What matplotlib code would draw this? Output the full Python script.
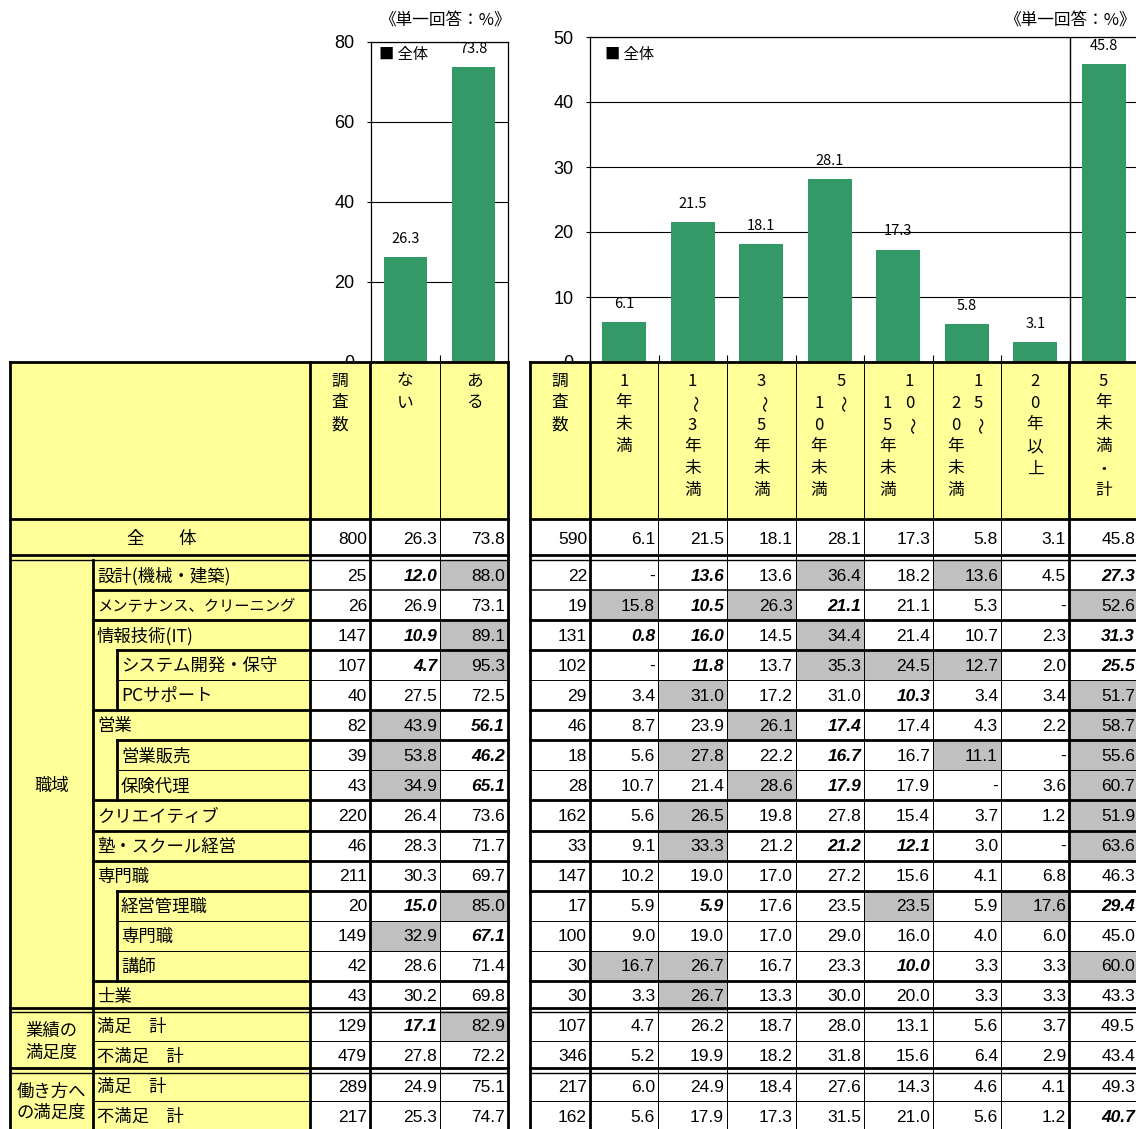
import matplotlib.pyplot as plt
from matplotlib.patches import Rectangle

W, H = 1136, 1129
JP = ['Noto Sans CJK JP', 'DejaVu Sans']
NUM = ['Liberation Sans', 'DejaVu Sans']
GREEN = '#339966'
YELLOW = '#FFFF99'
GRAY = '#C0C0C0'

# ---------------- data ----------------
left_heads = [['調査数'], ['ない'], ['ある']]
right_heads = [['調査数'], ['1年未満'], ['1〜3年未満'], ['3〜5年未満'], ['5〜', '10年未満'],
               ['10〜', '15年未満'], ['15〜', '20年未満'], ['20年以上'], ['5年未満・計']]

row_labels = ['全　　体', '設計(機械・建築)', 'メンテナンス、クリーニング', '情報技術(IT)',
              'システム開発・保守', 'PCサポート', '営業', '営業販売', '保険代理',
              'クリエイティブ', '塾・スクール経営', '専門職', '経営管理職', '専門職', '講師',
              '士業', '満足　計', '不満足　計', '満足　計', '不満足　計']
# 1 = main item, 2 = sub item
row_level = [0, 1, 1, 1, 2, 2, 1, 2, 2, 1, 1, 1, 2, 2, 2, 1, 1, 1, 1, 1]
sections = [('職域', 1, 15), ('業績の\n満足度', 16, 17), ('働き方へ\nの満足度', 18, 19)]

left_n = [800, 25, 26, 147, 107, 40, 82, 39, 43, 220, 46, 211, 20, 149, 42, 43, 129, 479, 289, 217]
left_nai = [26.3, 12.0, 26.9, 10.9, 4.7, 27.5, 43.9, 53.8, 34.9, 26.4, 28.3, 30.3, 15.0, 32.9,
            28.6, 30.2, 17.1, 27.8, 24.9, 25.3]
left_aru = [73.8, 88.0, 73.1, 89.1, 95.3, 72.5, 56.1, 46.2, 65.1, 73.6, 71.7, 69.7, 85.0, 67.1,
            71.4, 69.8, 82.9, 72.2, 75.1, 74.7]
# b = low (bold italic), g = high (gray)
left_marks = ['..', 'bg', '..', 'bg', 'bg', '..', 'gb', 'gb', 'gb', '..', '..', '..', 'bg', 'gb',
              '..', '..', 'bg', '..', '..', '..']

right_n = [590, 22, 19, 131, 102, 29, 46, 18, 28, 162, 33, 147, 17, 100, 30, 30, 107, 346, 217, 162]
right_vals = [
    [6.1, 21.5, 18.1, 28.1, 17.3, 5.8, 3.1, 45.8],
    [None, 13.6, 13.6, 36.4, 18.2, 13.6, 4.5, 27.3],
    [15.8, 10.5, 26.3, 21.1, 21.1, 5.3, None, 52.6],
    [0.8, 16.0, 14.5, 34.4, 21.4, 10.7, 2.3, 31.3],
    [None, 11.8, 13.7, 35.3, 24.5, 12.7, 2.0, 25.5],
    [3.4, 31.0, 17.2, 31.0, 10.3, 3.4, 3.4, 51.7],
    [8.7, 23.9, 26.1, 17.4, 17.4, 4.3, 2.2, 58.7],
    [5.6, 27.8, 22.2, 16.7, 16.7, 11.1, None, 55.6],
    [10.7, 21.4, 28.6, 17.9, 17.9, None, 3.6, 60.7],
    [5.6, 26.5, 19.8, 27.8, 15.4, 3.7, 1.2, 51.9],
    [9.1, 33.3, 21.2, 21.2, 12.1, 3.0, None, 63.6],
    [10.2, 19.0, 17.0, 27.2, 15.6, 4.1, 6.8, 46.3],
    [5.9, 5.9, 17.6, 23.5, 23.5, 5.9, 17.6, 29.4],
    [9.0, 19.0, 17.0, 29.0, 16.0, 4.0, 6.0, 45.0],
    [16.7, 26.7, 16.7, 23.3, 10.0, 3.3, 3.3, 60.0],
    [3.3, 26.7, 13.3, 30.0, 20.0, 3.3, 3.3, 43.3],
    [4.7, 26.2, 18.7, 28.0, 13.1, 5.6, 3.7, 49.5],
    [5.2, 19.9, 18.2, 31.8, 15.6, 6.4, 2.9, 43.4],
    [6.0, 24.9, 18.4, 27.6, 14.3, 4.6, 4.1, 49.3],
    [5.6, 17.9, 17.3, 31.5, 21.0, 5.6, 1.2, 40.7],
]
right_marks = ['........', '.b.g.g.b', 'gbgb...g', 'bb.g...b', '.b.ggg.b', '.g..b..g',
               '..gb...g', '.g.b.g.g', '..gb...g', '.g.....g', '.g.bb..g', '........',
               '.b..g.gb', '........', 'gg..b..g', '.g......', '........', '........',
               '........', '.......b']

# ---------------- layout (pixels) ----------------
LX = [310, 370, 440, 508]
RX = [530, 590, 658, 727, 796, 864, 933, 1001, 1069, 1138]
X_OUT, X_SEC, X_SUB = 10, 93, 117
Y_TOP, Y_HEAD = 362, 519
RH = 30.06
ytop = [Y_HEAD] + [560 + i * RH for i in range(19)]
ybot = [557] + [560 + (i + 1) * RH for i in range(19)]
THICK, MID, THIN = 2.0, 1.1, 0.7

fig = plt.figure(figsize=(W / 100, H / 100), dpi=100)


def px_axes(x0, y0, x1, y1):
    return fig.add_axes([x0 / W, 1 - y1 / H, (x1 - x0) / W, (y1 - y0) / H])


def style_bar_axes(ax, n, ymax, step):
    ax.set_xlim(-0.5, n - 0.5)
    ax.set_ylim(0, ymax)
    ax.set_yticks(range(0, ymax + 1, step))
    ax.set_xticks([])
    ax.set_xticks([i + 0.5 for i in range(n - 1)], minor=True)
    ax.tick_params(axis='x', which='minor', direction='in', length=5, width=0.8)
    ax.tick_params(axis='y', length=3, width=0.8, pad=9, labelsize=13)
    for lab in ax.get_yticklabels():
        lab.set_family(NUM)
    ax.yaxis.grid(True, color='black', lw=0.8)
    ax.set_axisbelow(True)
    for sp in ax.spines.values():
        sp.set_linewidth(0.9)


# bar charts (全体 row)
ax1 = px_axes(371, 42, 508, 362)
b1 = ax1.bar(range(2), [left_nai[0], left_aru[0]], width=0.63, color=GREEN, zorder=3)
ax1.bar_label(b1, fmt='%.1f', padding=8, fontsize=10.5, family=JP)
style_bar_axes(ax1, 2, 80, 20)

ax2 = px_axes(590, 37, 1138, 362)
b2 = ax2.bar(range(8), right_vals[0], width=0.64, color=GREEN, zorder=3)
ax2.bar_label(b2, fmt='%.1f', padding=8, fontsize=10.5, family=JP)
style_bar_axes(ax2, 8, 50, 10)
ax2.axvline(6.5, color='black', lw=1.0)

# ---------------- table overlay ----------------
tb = fig.add_axes([0, 0, 1, 1])
tb.set_xlim(0, W)
tb.set_ylim(H, 0)
tb.axis('off')
tb.set_zorder(5)


def rect(x0, y0, x1, y1, c):
    tb.add_patch(Rectangle((x0, y0), x1 - x0, y1 - y0, facecolor=c, edgecolor='none'))


def hl(y, x0, x1, lw):
    tb.plot([x0, x1], [y, y], color='black', lw=lw, solid_capstyle='projecting')


def vl(x, y0, y1, lw):
    tb.plot([x, x], [y0, y1], color='black', lw=lw, solid_capstyle='projecting')


# titles and legends
tb.text(445, 21, '《単一回答：%》', fontsize=12, family=JP, ha='center', va='center')
tb.text(1136, 21, '《単一回答：%》', fontsize=12, family=JP, ha='right', va='center')
tb.text(379, 54, '■ 全体', fontsize=11, family=JP, va='center')
tb.text(605, 55, '■ 全体', fontsize=11, family=JP, va='center')

# fills
rect(X_OUT, Y_TOP, LX[0], H + 5, YELLOW)
rect(LX[0], Y_TOP, LX[-1], Y_HEAD, YELLOW)
rect(RX[0], Y_TOP, RX[-1], Y_HEAD, YELLOW)
rect(LX[0], Y_HEAD, LX[-1], H + 5, 'white')
rect(RX[0], Y_HEAD, RX[-1], H + 5, 'white')


def vertical_heads(heads, xs):
    for k, lines in enumerate(heads):
        xc = (xs[k] + xs[k + 1]) / 2
        if len(lines) == 1:
            cols = [(xc, 0, lines[0])]
        else:
            cols = [(xc + 11, 0, lines[0]), (xc - 11, 1, lines[1])]
        for x, start, txt in cols:
            for j, ch in enumerate(txt):
                tb.text(x, 381 + 22 * (start + j), ch, fontsize=12, family=JP,
                        ha='center', va='center', rotation=-90 if ch == '〜' else 0)


vertical_heads(left_heads, LX)
vertical_heads(right_heads, RX)


def fmt(v):
    return '-' if v is None else f'{v:.1f}'


def num(x, y, s, m):
    tb.text(x, y, s, fontsize=12.5, family=NUM, ha='right', va='center',
            weight='bold' if m == 'b' else 'normal',
            style='italic' if m == 'b' else 'normal')


for r in range(20):
    yc = (ytop[r] + ybot[r]) / 2 + 1
    # labels
    lev = row_level[r]
    if lev == 0:
        tb.text((X_OUT + LX[0]) / 2 + 2, yc, row_labels[r], fontsize=12.5, family=JP,
                ha='center', va='center')
    else:
        size = 11 if len(row_labels[r]) > 11 else 12.5
        tb.text((X_SEC if lev == 1 else X_SUB) + 4, yc, row_labels[r], fontsize=size,
                family=JP, ha='left', va='center')
    # left numbers
    cells = [(str(left_n[r]), '.'), (fmt(left_nai[r]), left_marks[r][0]),
             (fmt(left_aru[r]), left_marks[r][1])]
    for c, (s, m) in enumerate(cells):
        if m == 'g':
            rect(LX[c], ytop[r], LX[c + 1], ybot[r], GRAY)
        num(LX[c + 1] - 3, yc, s, m)
    # right numbers
    cells = [(str(right_n[r]), '.')] + [(fmt(v), m) for v, m in zip(right_vals[r], right_marks[r])]
    for c, (s, m) in enumerate(cells):
        if m == 'g':
            rect(RX[c], ytop[r], RX[c + 1], ybot[r], GRAY)
        num(RX[c + 1] - 3, yc, s, m)

# section labels
for name, r0, r1 in sections:
    tb.text((X_OUT + X_SEC) / 2, (ytop[r0] + ybot[r1]) / 2 + 1, name, fontsize=12.5,
            family=JP, ha='center', va='center', linespacing=1.25)

# outer / header lines
for y in (Y_TOP, Y_HEAD):
    hl(y, X_OUT, LX[-1], THICK)
    hl(y, RX[0], RX[-1], THICK)


def double_line(y):
    for x0, x1 in ((X_OUT, LX[-1]), (RX[0], RX[-1])):
        hl(y - 3, x0, x1, THICK)
        hl(y + 1.5, x0, x1, 1.0)


double_line(ybot[0] + 1)
double_line(ytop[16])
double_line(ytop[18])

sec_starts = [s[1] for s in sections]
for r in range(2, 20):
    if r in sec_starts:
        continue
    y = ytop[r]
    if r > 15:
        hl(y, X_SEC, LX[0], THIN)
        lw = THIN
    elif row_level[r] == 1:
        hl(y, X_SEC, LX[0], THICK)
        lw = MID if r == 2 else THICK
    elif row_level[r - 1] == 1:
        hl(y, X_SUB, LX[0], THICK)
        lw = THICK
    else:
        hl(y, X_SUB, LX[0], THIN)
        lw = THIN
    hl(y, LX[0], LX[-1], lw)
    hl(y, RX[0], RX[-1], lw)

# sub-item indent verticals
r = 1
while r < 20:
    if row_level[r] == 2:
        r0 = r
        while r < 20 and row_level[r] == 2:
            r += 1
        vl(X_SUB, ytop[r0], ybot[r - 1], THICK)
    else:
        r += 1

vl(X_OUT, Y_TOP, H + 5, THICK)
vl(X_SEC, ybot[0] + 3, H + 5, THICK)
for x, lw in zip(LX, [THICK, THICK, THIN, THICK]):
    vl(x, Y_TOP, H + 5, lw)
for i, x in enumerate(RX[:-1]):
    vl(x, Y_TOP, H + 5, THICK if i in (0, 1, 8) else THIN)

fig.savefig('out.png', dpi=100)
